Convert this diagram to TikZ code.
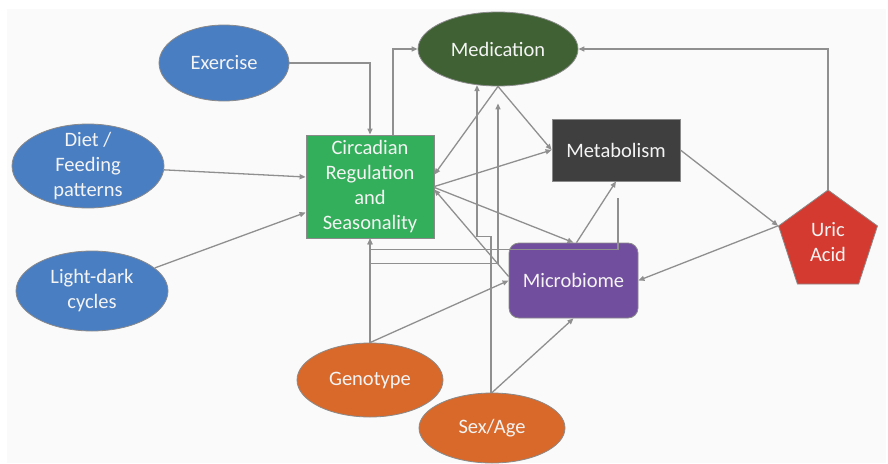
\documentclass[tikz,border=0pt]{standalone}
\usepackage{fontspec}
\setmainfont{Carlito}
\usepackage{tikz}
\usetikzlibrary{positioning, shapes.geometric, arrows.meta}

\definecolor{factorblue}{HTML}{4A7EC2}
\definecolor{circgreen}{HTML}{33AF5B}
\definecolor{medgreen}{HTML}{3F6133}
\definecolor{metabgray}{HTML}{3F3F3F}
\definecolor{micropurple}{HTML}{724E9E}
\definecolor{uricred}{HTML}{D43A2F}
\definecolor{hostorange}{HTML}{D9692A}
\definecolor{nodeline}{HTML}{8A8A8A}
\definecolor{linkgray}{HTML}{8F8F8F}
\definecolor{nodetext}{HTML}{F4F4F4}
\definecolor{paper}{HTML}{FAFAFA}

\begin{document}
\begin{tikzpicture}[x=1pt, y=-1pt,
    box/.style={draw=nodeline, line width=0.8pt, text=nodetext, align=center,
      inner sep=0pt, font=\fontsize{20.5}{25}\selectfont},
    oval/.style={box, ellipse},
    link/.style={draw=linkgray, line width=1.3pt, -{Triangle[length=6pt, width=5pt]}}]

    % Page
    \useasboundingbox (0,0) rectangle (888,463);
    \fill[paper] (7,9) rectangle (886,463);

    % Outside factors
    \node[oval, fill=factorblue, minimum width=130pt, minimum height=76pt] (exer) at (224,63) {Exercise};
    \node[oval, fill=factorblue, minimum width=152pt, minimum height=84pt, inner ysep=-12pt] (diet) at (88,166) {Diet /\\Feeding\\patterns};
    \node[oval, fill=factorblue, minimum width=152pt, minimum height=80pt] (light) at (92,291) {Light-dark\\cycles};

    % Middle boxes
    \node[box, fill=circgreen, minimum width=128pt, minimum height=103pt] (circ) at (370,186.5) {Circadian\\Regulation\\and\\Seasonality};
    \node[oval, fill=medgreen, minimum width=160pt, minimum height=74pt] (med) at (498,49) {Medication};
    \node[box, fill=metabgray, minimum width=128pt, minimum height=62pt] (metab) at (616,150) {Metabolism};
    \node[box, fill=micropurple, rounded corners=10pt, minimum width=129pt, minimum height=75pt] (micro) at (573.5,280.5) {Microbiome};
    \node[box, fill=uricred, regular polygon, regular polygon sides=5, minimum size=104pt] (uric) at (828,242) {Uric\\Acid};

    % Host factors
    \node[oval, fill=hostorange, minimum width=146pt, minimum height=74pt] (gen) at (370,380) {Genotype};
    \node[oval, fill=hostorange, minimum width=146pt, minimum height=70pt] (sex) at (492,428) {Sex/Age};

    % Links into the circadian box
    \draw[link] (exer.east) -| (circ.north);
    \draw[link] (diet) -- ([yshift=9.5pt]circ.west);
    \draw[link] (light) -- ([yshift=-26pt]circ.west);
    \draw[link] ([xshift=23pt]circ.north) |- (med.west);
    \draw[link] (med.south) -- ([yshift=12pt]circ.east);
    \draw[link] (med.south) -- (metab.west);
    \draw[link] (circ.east) -- (metab.west);
    \draw[link] ([yshift=-1pt]circ.east) -- (micro.north);
    \draw[link] ([yshift=4pt]micro.west) -- ([yshift=-3pt]circ.east);
    \draw[link] ([xshift=3pt]micro.north) -- (metab.south);

    % Uric acid loop
    \draw[link] (metab.east) -- (uric.corner 2);
    \draw[link] (uric.corner 2) -- (micro.east);
    \draw[link] (uric.corner 1) |- (med.east);
    \draw[link] ([xshift=2pt,yshift=-17pt]metab.south) -- ++(0,51) -| (circ.south);

    % Host factor links
    \draw[link] (gen.north) -- (circ.south);
    \draw[link] (gen.north) -- ++(0,-79) -| ([yshift=-17pt]med.south);
    \draw[link] (gen.north) -- (micro.west);
    \draw[link] ([xshift=-1pt]sex.north) -- ++(0,-156) -- ++(-14,0) coordinate (sexbend) -- (sexbend |- med.240);
    \draw[link] (sex.north) -- (micro.south);

\end{tikzpicture}
\end{document}
